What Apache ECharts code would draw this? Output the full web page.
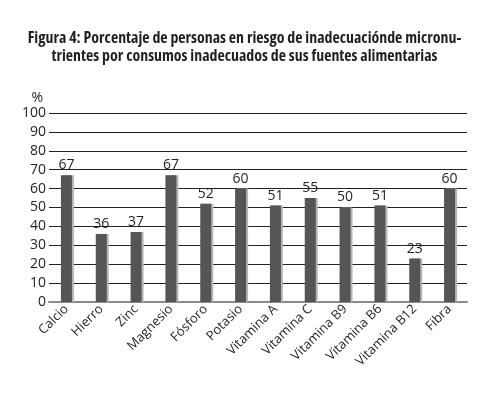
<!DOCTYPE html>
<html><head><meta charset="utf-8">
<script src="https://cdn.jsdelivr.net/npm/echarts@6/dist/echarts.min.js"></script>
<style>html,body{margin:0;padding:0;background:#fff}#c{width:489px;height:396px}</style>
</head><body><div id="c"></div>
<script>
const categories = ['Calcio','Hierro','Zinc','Magnesio','Fósforo','Potasio','Vitamina A','Vitamina C','Vitamina B9','Vitamina B6','Vitamina B12','Fibra'];
const values = [67,36,37,67,52,60,51,55,50,51,23,60];
const titleLines = ['Figura 4: Porcentaje de personas en riesgo de inadecuaciónde micronu-','trientes por consumos inadecuados de sus fuentes alimentarias'];
const yTicks = {min:0, max:100, interval:10};

// choose the narrowest available bold face for the condensed title
function pickTitleFont(targetWidth){
  const ctx = document.createElement('canvas').getContext('2d');
  const cands = [
    ['bold condensed','"Open Sans"'],
    ['bold','"DejaVu Sans Condensed"'],
    ['bold','"Liberation Sans Narrow"'],
    ['bold condensed','"DejaVu Sans"'],
    ['bold condensed','Roboto'],
    ['bold','Roboto'],
    ['bold','Lato'],
    ['bold','"Noto Sans"']
  ];
  let best = null;
  for (const [w,f] of cands){
    ctx.font = '10px serif';
    const s = 'normal ' + w + ' 16px ' + f;
    ctx.font = s;
    if (ctx.font === '10px serif') continue;
    const width = ctx.measureText(titleLines[0]).width;
    if (!best || width < best.width) best = {weight:w, family:f, width:width};
  }
  const size = Math.min(17, 16 * targetWidth / best.width);
  return {weight:best.weight, family:best.family, size:size};
}
const tf = pickTitleFont(434);

const chart = echarts.init(document.getElementById('c'), null, {renderer:'canvas'});
chart.setOption({
  animation:false,
  title:{text:titleLines.join('\n'), left:'center', top:24,
    textStyle:{fontFamily:tf.family, fontWeight:tf.weight, fontSize:tf.size, lineHeight:18, color:'#231f20'}},
  grid:{left:49, right:22, top:113, bottom:94},
  xAxis:{type:'category', data:categories,
    axisTick:{show:false},
    axisLine:{lineStyle:{color:'#8a8a8a', width:2}},
    axisLabel:{rotate:45, interval:0, fontSize:13, margin:5, color:'#231f20', fontFamily:'"Open Sans",sans-serif'}},
  yAxis:{type:'value', min:yTicks.min, max:yTicks.max, interval:yTicks.interval,
    name:'%', nameLocation:'end', nameGap:8,
    nameTextStyle:{fontSize:14, color:'#231f20', align:'right', padding:[0,6,0,0], fontFamily:'"Open Sans",sans-serif'},
    axisLine:{show:false}, axisTick:{show:false},
    axisLabel:{fontSize:14, margin:3, color:'#231f20', fontFamily:'"Open Sans",sans-serif'},
    splitLine:{lineStyle:{color:'#222', width:1}}},
  series:[{type:'bar', data:values, barWidth:11,
    itemStyle:{color:'#555555', shadowColor:'#b5b5b5', shadowOffsetX:2, shadowOffsetY:0, shadowBlur:0},
    label:{show:true, position:'top', distance:3, fontSize:14, color:'#231f20', fontFamily:'"Open Sans",sans-serif'}}]
});
</script></body></html>
